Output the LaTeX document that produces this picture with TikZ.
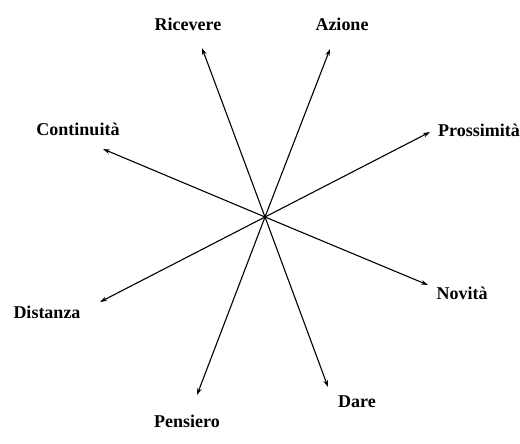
\documentclass[tikz,border=0pt]{standalone}
\usepackage{fontspec}
\setmainfont{Liberation Serif}
\usetikzlibrary{arrows.meta}
\begin{document}
\begin{tikzpicture}[x=1pt,y=-1pt,
  lab/.style={font=\fontsize{18}{20}\selectfont\bfseries, inner sep=0pt},
  arr/.style={line width=1.1pt, -{Stealth[length=7pt,width=4.5pt]}}]
\useasboundingbox (0,0) rectangle (520,444);
\coordinate (c) at (265,217);
\coordinate (tR) at (202,48);
\coordinate (tA) at (330,49);
\coordinate (tC) at (103,149);
\coordinate (tP) at (430,132);
\coordinate (tD) at (100,302);
\coordinate (tN) at (428,285);
\coordinate (tPe) at (197,395);
\coordinate (tDa) at (328,387);
\node[lab] (ric) at (188,24) {Ricevere};
\node[lab] (azi) at (342,24) {Azione};
\node[lab] (con) at (78,129) {Continuità};
\node[lab] (pro) at (479,130) {Prossimità};
\node[lab] (dis) at (47,312) {Distanza};
\node[lab] (nov) at (462,293) {Novità};
\node[lab] (pen) at (187,421) {Pensiero};
\node[lab] (dar) at (357,402) {Dare};
\foreach \t in {tR,tA,tC,tP,tD,tN,tPe,tDa} \draw[arr] (c) -- (\t);
\end{tikzpicture}
\end{document}
